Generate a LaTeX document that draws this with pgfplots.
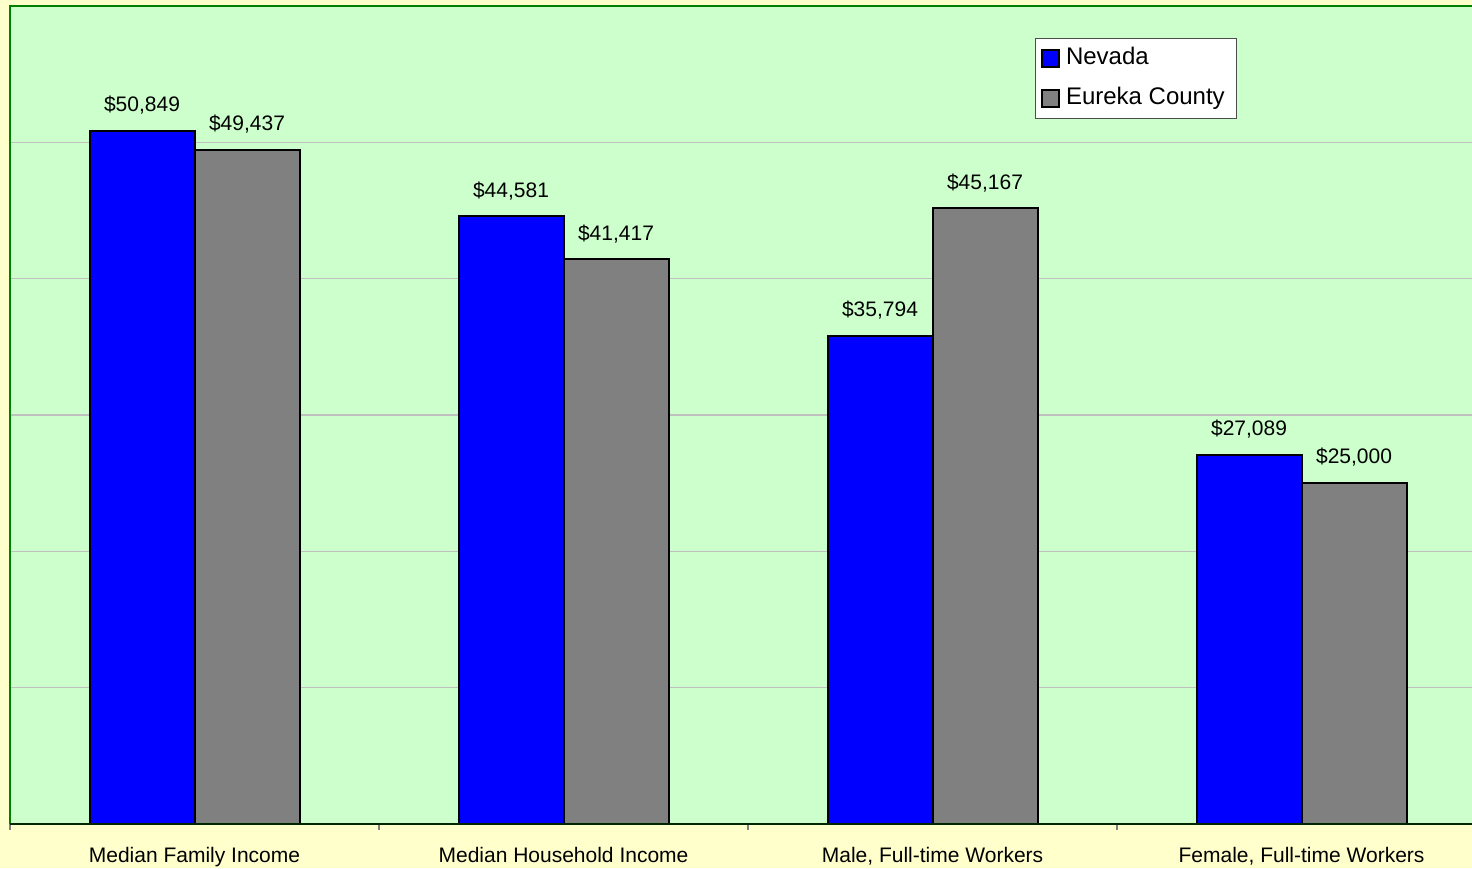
\documentclass[border=0pt]{standalone}
\usepackage{pgfplots}
\pgfplotsset{compat=1.18}
\usepackage{fontspec}
\setmainfont{Liberation Sans}
\definecolor{bg}{RGB}{255,255,204}
\definecolor{plotbg}{RGB}{204,255,204}
\definecolor{frame}{RGB}{0,128,0}
\definecolor{gridc}{RGB}{192,192,192}
\definecolor{barblue}{RGB}{0,0,255}
\definecolor{bargray}{RGB}{128,128,128}
\pgfplotsset{sqlegend/.style={legend image code/.code={\draw[##1, draw=black, line width=0.8pt] (0pt,-4.2pt) rectangle (8.5pt,4.2pt);}}}
\begin{document}
\begin{tikzpicture}
\fill[bg] (0,0) rectangle (736pt,434pt);
\begin{axis}[
  at={(5pt,22pt)}, anchor=south west, scale only axis,
  width=731pt, height=409pt,
  xmin=-0.5, xmax=3.462, ymin=0, ymax=60000,
  clip=false,
  axis background/.style={fill=plotbg},
  axis line style={draw=none},
  ybar=0pt, bar width=52.5pt,
  ytick={10000,20000,30000,40000,50000}, yticklabels={},
  scaled y ticks=false,
  ymajorgrids, major grid style={gridc, line width=0.6pt},
  xtick={0,1,2,3},
  xticklabels={Median Family Income, Median Household Income, {Male, Full-time Workers}, {Female, Full-time Workers}},
  minor xtick={-0.5,0.5,1.5,2.5},
  xtick pos=bottom, ytick pos=left,
  major tick length=0pt, minor tick length=3pt, tick align=outside,
  minor tick style={gray, line width=0.6pt},
  xticklabel style={font=\fontsize{10.5}{12}\selectfont, anchor=base, yshift=-19pt},
  /pgf/number format/.cd, 1000 sep={,}, assume math mode=true, fixed, precision=0,
  /pgfplots/.cd,
  nodes near coords={\$\pgfmathprintnumber{\pgfplotspointmeta}},
  nodes near coords style={anchor=base, yshift=9.6pt, font=\fontsize{10.5}{12}\selectfont, inner sep=0pt, text=black},
  legend style={at={(0.7011,0.9609)}, anchor=north west, draw=black!70, fill=white,
    font=\fontsize{12}{14}\selectfont, row sep=6pt, inner sep=3pt,
    nodes={inner ysep=1pt, inner xsep=3pt, text height=9pt, text depth=3pt}},
  legend cell align=left,
]
\addplot[fill=barblue, draw=black, line width=1pt, sqlegend] coordinates {(0,50849) (1,44581) (2,35794) (3,27089)};
\addplot[fill=bargray, draw=black, line width=1pt, sqlegend] coordinates {(0,49437) (1,41417) (2,45167) (3,25000)};
\legend{Nevada, Eureka County}
\draw[frame, line width=1pt] (rel axis cs:0,0) -- (rel axis cs:0,1) -- (rel axis cs:1,1);
\draw[black!85!green, line width=1pt] (rel axis cs:0,0) -- (rel axis cs:1,0);
\end{axis}
\pgfresetboundingbox
\useasboundingbox (0,0) rectangle (736pt,434pt);
\end{tikzpicture}
\end{document}
